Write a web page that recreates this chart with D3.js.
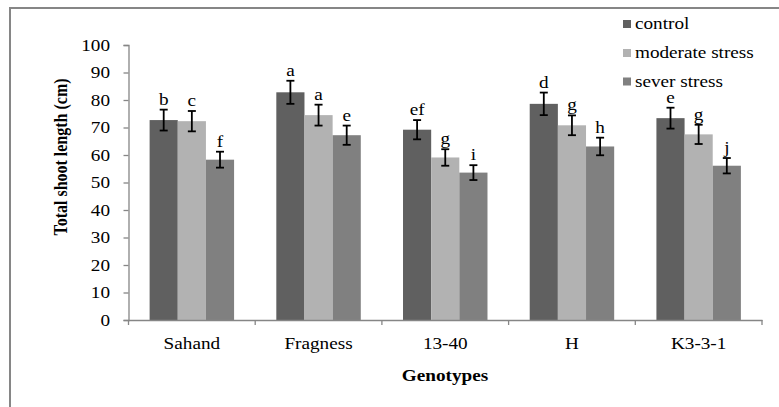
<!DOCTYPE html>
<html>
<head>
<meta charset="utf-8">
<script src="https://cdn.jsdelivr.net/npm/d3@7"></script>
<style>
  html, body { margin: 0; padding: 0; background: #fff; }
  svg { display: block; }
  text { font-family: "Liberation Serif", "Times New Roman", serif; fill: #000; }
</style>
</head>
<body>
<svg id="chart" width="779" height="407"></svg>
<script>
const categories = ["Sahand", "Fragness", "13-40", "H", "K3-3-1"];
const seriesNames = ["control", "moderate stress", "sever stress"];
const controlValues = [72.7, 82.8, 69.2, 78.6, 73.4];
const moderateValues = [72.3, 74.5, 59.1, 70.8, 67.5];
const severeValues = [58.3, 67.2, 53.6, 63.1, 56.1];
const controlErrors = [3.8, 4.2, 3.5, 4.1, 3.8];
const moderateErrors = [3.7, 3.8, 3.0, 3.6, 3.5];
const severeErrors = [2.9, 3.5, 2.7, 3.2, 2.8];
const controlLetters = ["b", "a", "ef", "d", "e"];
const moderateLetters = ["c", "a", "g", "g", "g"];
const severeLetters = ["f", "e", "i", "h", "j"];
const yTicks = [0, 10, 20, 30, 40, 50, 60, 70, 80, 90, 100];
const colors = ["#606060", "#b2b2b2", "#808080"];

const seriesValues = [controlValues, moderateValues, severeValues];
const seriesErrors = [controlErrors, moderateErrors, severeErrors];
const seriesLetters = [controlLetters, moderateLetters, severeLetters];

const FONT = "Liberation Serif";
const SX = 1.2; // horizontal text stretch as in reference
const svg = d3.select("#chart");
const axisColor = "#868686";

// outer frame (only left/top edges visible)
svg.append("rect").attr("x", 10).attr("y", 8).attr("width", 820).attr("height", 440)
  .attr("fill", "none").attr("stroke", axisColor).attr("stroke-width", 2);

const x0 = d3.scaleBand().domain(categories).range([128.5, 762]).paddingInner(0).paddingOuter(0);
const x1 = d3.scaleBand().domain(seriesNames).range([0, x0.bandwidth()]).paddingInner(0).paddingOuter(0.75);
const y = d3.scaleLinear().domain([0, 100]).range([320, 45]);

const rows = [];
categories.forEach((c, i) => {
  seriesNames.forEach((s, j) => {
    rows.push({ cat: c, ser: s, j, v: seriesValues[j][i], e: seriesErrors[j][i], l: seriesLetters[j][i] });
  });
});

// bars
svg.append("g").selectAll("rect").data(rows).join("rect")
  .attr("x", d => x0(d.cat) + x1(d.ser))
  .attr("y", d => y(d.v))
  .attr("width", x1.bandwidth())
  .attr("height", d => y(0) - y(d.v))
  .attr("fill", d => colors[d.j]);

// y axis
const yAxis = svg.append("g").attr("transform", "translate(128.5,0)")
  .call(d3.axisLeft(y).tickValues(yTicks).tickSize(5).tickPadding(0));
yAxis.attr("font-family", FONT).attr("font-size", 16);
yAxis.select(".domain").attr("stroke", axisColor).attr("stroke-width", 1.3);
yAxis.selectAll(".tick line").attr("stroke", axisColor).attr("stroke-width", 1.3);
yAxis.selectAll(".tick text")
  .attr("x", -18.5 / SX).attr("dy", "0.33em")
  .attr("transform", `scale(${SX},1)`)
  .style("font-size", "16px").style("font-family", FONT);

// x axis
const xAxis = svg.append("g").attr("transform", `translate(0,${y(0)})`)
  .call(d3.axisBottom(x0).tickSize(0).tickPadding(0));
xAxis.attr("font-family", FONT).attr("font-size", 16);
xAxis.select(".domain").attr("stroke", axisColor).attr("stroke-width", 1.3);
xAxis.selectAll(".tick text")
  .attr("y", 29.5).attr("dy", 0)
  .attr("transform", `scale(${SX},1)`)
  .style("font-size", "16px").style("font-family", FONT);

// boundary ticks
const bounds = categories.map(c => x0(c)).concat([x0.range()[1]]);
svg.append("g").selectAll("line").data(bounds).join("line")
  .attr("x1", d => d).attr("x2", d => d)
  .attr("y1", y(0)).attr("y2", y(0) + 5)
  .attr("stroke", axisColor).attr("stroke-width", 1.3);

// error bars
const eb = svg.append("g").attr("stroke", "#000").attr("stroke-width", 1.8);
rows.forEach(d => {
  const cx = x0(d.cat) + x1(d.ser) + x1.bandwidth() / 2;
  const top = y(d.v + d.e), bot = y(d.v - d.e);
  eb.append("line").attr("x1", cx).attr("x2", cx).attr("y1", top).attr("y2", bot);
  eb.append("line").attr("x1", cx - 4).attr("x2", cx + 4).attr("y1", top).attr("y2", top);
  eb.append("line").attr("x1", cx - 4).attr("x2", cx + 4).attr("y1", bot).attr("y2", bot);
});

// significance letters
svg.append("g").selectAll("text").data(rows).join("text")
  .attr("transform", d => `translate(${x0(d.cat) + x1(d.ser) + x1.bandwidth() / 2},${y(d.v + d.e) - 5}) scale(${SX},1)`)
  .attr("text-anchor", "middle")
  .style("font-family", FONT)
  .style("font-size", "16px")
  .text(d => d.l);

// axis titles
svg.append("text")
  .attr("transform", `translate(67,157) scale(${SX},1) rotate(-90)`)
  .attr("text-anchor", "middle")
  .style("font-family", FONT)
  .style("font-size", "16px").style("font-weight", "bold")
  .text("Total shoot length (cm)");

svg.append("text")
  .attr("transform", `translate(445,381) scale(${SX},1)`)
  .attr("text-anchor", "middle")
  .style("font-family", FONT)
  .style("font-size", "16px").style("font-weight", "bold")
  .text("Genotypes");

// legend
const legendY = [24, 53, 81.5];
const lg = svg.append("g");
seriesNames.forEach((s, j) => {
  lg.append("rect").attr("x", 623).attr("y", legendY[j] - 4).attr("width", 8).attr("height", 8).attr("fill", colors[j]);
  lg.append("text")
    .attr("transform", `translate(635,${legendY[j] + 5}) scale(${SX},1)`)
    .style("font-family", FONT)
    .style("font-size", "16px")
    .text(s);
});
</script>
</body>
</html>
